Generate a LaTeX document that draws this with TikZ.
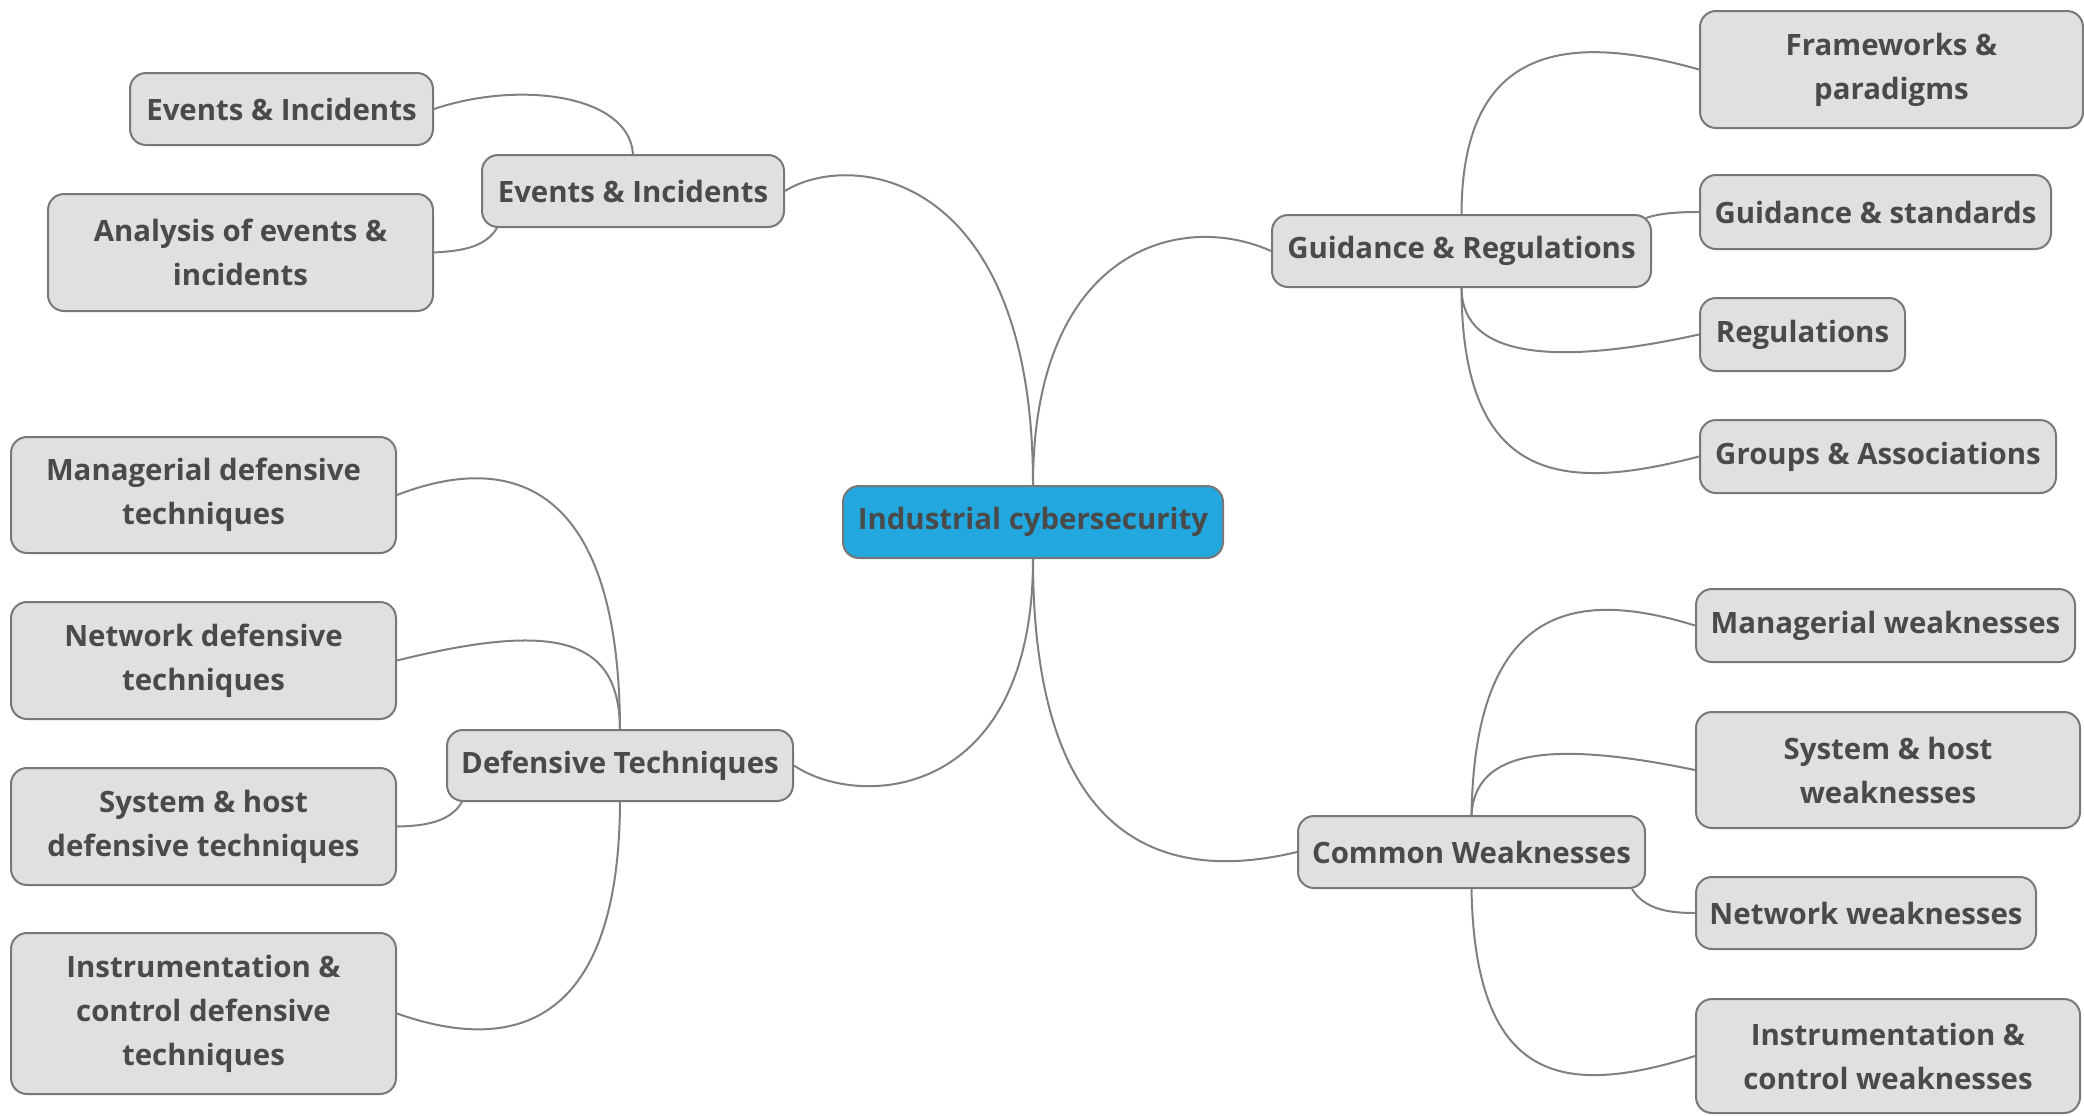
\documentclass[tikz,border=0pt]{standalone}
\usepackage{fontspec}
\setmainfont{Open Sans}
\definecolor{boxfill}{HTML}{E0E0E0}
\definecolor{boxline}{HTML}{787878}
\definecolor{txt}{HTML}{4A4A4A}
\definecolor{central}{HTML}{22A8DF}
\definecolor{conncol}{HTML}{808080}
\tikzset{
  box/.style={draw=boxline, fill=boxfill, rounded corners=8pt, line width=1pt,
    text=txt, font=\bfseries\fontsize{14.7}{22}\selectfont, align=center, inner sep=0pt},
  conn/.style={draw=conncol, line width=1pt},
}
\begin{document}
\begin{tikzpicture}[x=0.5pt,y=-0.5pt]
\useasboundingbox (0,0) rectangle (2084,1115);
% nodes
\node[box, fill=central, minimum width=190pt, minimum height=36pt] (c) at (1033,522) {Industrial cybersecurity};
\node[box, minimum width=151pt, minimum height=36pt] (ei) at (633,191) {Events \& Incidents};
\node[box, minimum width=151.5pt, minimum height=36pt] (ei1) at (281.5,109) {Events \& Incidents};
\node[box, minimum width=192.5pt, minimum height=58.5pt] (ana) at (240.5,252.5) {Analysis of events \&\\incidents};
\node[box, minimum width=189.5pt, minimum height=36pt] (gr) at (1461.5,251) {Guidance \& Regulations};
\node[box, minimum width=191.5pt, minimum height=58.5pt] (fw) at (1891.5,69.5) {Frameworks \&\\paradigms};
\node[box, minimum width=175.5pt, minimum height=37pt] (gs) at (1875.5,212) {Guidance \& standards};
\node[box, minimum width=102.5pt, minimum height=36.5pt] (reg) at (1802.5,334.5) {Regulations};
\node[box, minimum width=178pt, minimum height=36.5pt] (grp) at (1878,456.5) {Groups \& Associations};
\node[box, minimum width=173pt, minimum height=35.5pt] (dt) at (620,765.5) {Defensive Techniques};
\node[box, minimum width=192.5pt, minimum height=58pt] (md) at (203.5,495) {Managerial defensive\\techniques};
\node[box, minimum width=192.5pt, minimum height=58.5pt] (nd) at (203.5,660.5) {Network defensive\\techniques};
\node[box, minimum width=192.5pt, minimum height=58.5pt] (shd) at (203.5,826.5) {System \& host\\defensive techniques};
\node[box, minimum width=192.5pt, minimum height=80.5pt] (icd) at (203.5,1013.5) {Instrumentation \&\\control defensive\\techniques};
\node[box, minimum width=173.5pt, minimum height=36pt] (cw) at (1471.5,852) {Common Weaknesses};
\node[box, minimum width=189.5pt, minimum height=36.5pt] (mw) at (1885.5,625.5) {Managerial weaknesses};
\node[box, minimum width=192pt, minimum height=58pt] (shw) at (1888,770) {System \& host\\weaknesses};
\node[box, minimum width=170pt, minimum height=36pt] (nw) at (1866,913) {Network weaknesses};
\node[box, minimum width=192pt, minimum height=57pt] (iw) at (1888,1056) {Instrumentation \&\\control weaknesses};
% connectors from centre
\draw[conn] (c.north) .. controls (1033,170) and (850,150) .. (ei.east);
\draw[conn] (c.north) .. controls (1033,250) and (1180,210) .. (gr.west);
\draw[conn] (c.south) .. controls (1033,800) and (860,810) .. (dt.east);
\draw[conn] (c.south) .. controls (1033,860) and (1180,880) .. (cw.west);
% events
\draw[conn] (ei.north) .. controls (629,95) and (520,80) .. (ei1.east);
\draw[conn] ([xshift=8pt]ei.south west) .. controls (485,248) and (460,251) .. (ana.east);
% guidance
\draw[conn] (gr.north) .. controls (1462,50) and (1560,30) .. (fw.west);
\draw[conn] ([xshift=-3pt,yshift=-2pt]gr.north east) .. controls (1660,213) and (1680,212) .. (gs.west);
\draw[conn] (gr.south) .. controls (1462,360) and (1560,365) .. (reg.west);
\draw[conn] (gr.south) .. controls (1462,490) and (1570,490) .. (grp.west);
% defensive
\draw[conn] (dt.north) .. controls (619,470) and (500,455) .. (md.east);
\draw[conn] (dt.north) .. controls (619,640) and (560,620) .. (nd.east);
\draw[conn] ([xshift=8pt]dt.south west) .. controls (450,822) and (425,826) .. (shd.east);
\draw[conn] (dt.south) .. controls (619,1040) and (500,1050) .. (icd.east);
% weaknesses
\draw[conn] (cw.north) .. controls (1475,600) and (1580,590) .. (mw.west);
\draw[conn] (cw.north) .. controls (1475,750) and (1550,740) .. (shw.west);
\draw[conn] ([xshift=-7pt]cw.south east) .. controls (1645,910) and (1670,913) .. (nw.west);
\draw[conn] (cw.south) .. controls (1475,1090) and (1570,1095) .. (iw.west);
\end{tikzpicture}
\end{document}
